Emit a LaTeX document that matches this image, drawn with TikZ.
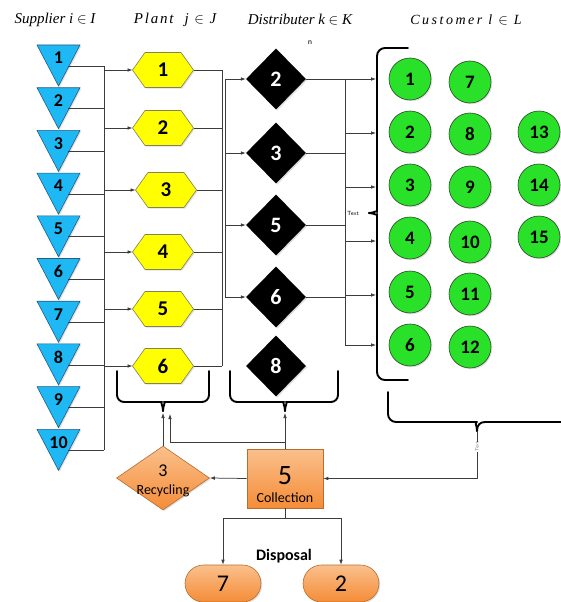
\documentclass[tikz,border=0pt]{standalone}
\usepackage{fontspec}
\setmainfont{Liberation Serif}
\newfontfamily\carl{Carlito}
\usetikzlibrary{shapes.geometric,shapes.misc,shadows,arrows.meta,calc}
\definecolor{suppblue}{RGB}{30,185,245}
\definecolor{suppedge}{RGB}{40,90,130}
\definecolor{plantyel}{RGB}{255,255,0}
\definecolor{plantedge}{RGB}{130,130,90}
\definecolor{custgreen}{RGB}{40,225,40}
\definecolor{custedge}{RGB}{40,70,40}
\definecolor{orangeA}{RGB}{250,192,140}
\definecolor{orangeB}{RGB}{245,140,55}
\definecolor{orangeEdge}{RGB}{180,110,50}
\definecolor{ln}{RGB}{60,60,60}
\begin{document}
\begin{tikzpicture}[x=1pt,y=-1pt,
  conn/.style={draw=ln,line width=0.75pt},
  arr/.style={conn,-{Latex[length=5pt,width=3.6pt]}},
  brace/.style={draw=black,line width=1.9pt,line cap=round,line join=round},
  shade/.style={drop shadow={opacity=0.25,shadow xshift=1.2pt,shadow yshift=-1.2pt}},
  suppshape/.style={fill=suppblue,draw=suppedge,line width=0.6pt,shade},
  plantshape/.style={fill=plantyel,draw=plantedge,line width=0.6pt,shade},
  snum/.style={font=\carl\bfseries\fontsize{18}{18}\selectfont,inner sep=0},
  pnum/.style={font=\carl\bfseries\fontsize{21}{21}\selectfont,inner sep=0},
  dist/.style={diamond,fill=black,minimum width=60,minimum height=61,inner sep=0,text=white,font=\carl\bfseries\fontsize{22}{22}\selectfont,shade},
  cust/.style={circle,fill=custgreen,draw=custedge,line width=0.6pt,minimum size=42,inner sep=0,font=\carl\bfseries\fontsize{19}{19}\selectfont,shade},
  orange/.style={top color=orangeA,bottom color=orangeB,draw=orangeEdge,line width=0.6pt},
  title/.style={font=\fontsize{15}{15}\selectfont,inner sep=0},
]
\useasboundingbox (0,0) rectangle (560,602);
\fill[white] (0,0) rectangle (560,602);

% titles
\node[title] (tS) at (55,20) {\itshape Supplier i $\in$ \itshape I};
\node[title] (tP) at (175,20) {\addfontfeature{LetterSpace=12}\itshape Plant\ \ j $\in$ \itshape J};
\node[title] (tD) at (300,20) {\itshape Distributer k $\in$ \itshape K};
\node[title,font=\fontsize{14}{14}\selectfont] (tC) at (466,20) {\addfontfeature{LetterSpace=18}\itshape Customer l $\in$ \itshape L};
\node[font=\sffamily\fontsize{8}{8}\selectfont,inner sep=0] (nn) at (310,43) {n};
\node[font=\sffamily\fontsize{6}{6}\selectfont,inner sep=0] (tx1) at (353,213) {Text};

% buses
\coordinate (busA) at (104,0);
\coordinate (busB) at (222,0);
\coordinate (busC) at (225,0);
\coordinate (busD) at (345,0);

% suppliers
\foreach \i in {1,...,10}{
  \pgfmathsetmacro{\t}{45+42.7*(\i-1)}
  \path[suppshape] (37,\t) -- (80,\t) -- (58.5,\t+41) -- cycle;
  \node[snum] (s\i) at (58.5,\t+13) {\i};
  \coordinate (so\i) at (68,\t+21);
  \draw[conn] (so\i) -- (so\i -| busA);
}
\draw[conn] (so1 -| busA) -- (so10 -| busA);

% plants
\foreach \i/\px/\py in {1/163/70,2/163/128,3/166/190,4/163/252,5/163/309,6/163/366}{
  \path[plantshape] (\px-30.5,\py) -- (\px-18,\py-17.5) -- (\px+18,\py-17.5) -- (\px+30.5,\py) -- (\px+18,\py+17.5) -- (\px-18,\py+17.5) -- cycle;
  \node[pnum] (p\i) at (\px,\py) {\i};
  \coordinate (pl\i) at (\px-30.5,\py);
  \coordinate (pr\i) at (\px+30.5,\py);
  \draw[arr] (pl\i -| busA) -- (pl\i);
  \draw[conn] (pr\i) -- (pr\i -| busB);
}
\draw[conn] (pr1 -| busB) -- (pr6 -| busB);

% distributors
\foreach \i/\dy in {2/79,3/153,5/225,6/297,8/366}
  \node[dist] (d\i) at (276,\dy) {\i};
\foreach \i in {2,3,5,6}{
  \draw[arr] (d\i.west -| busC) -- (d\i.west);
  \draw[conn] (d\i.east) -- (d\i.east -| busD);
}
\draw[conn] (d2.west -| busC) -- (d6.west -| busC);

% customer arrows
\foreach \i/\cy in {1/79,2/133,3/187,4/241,5/295,6/345}{
  \coordinate (cb\i) at (376,\cy);
  \draw[arr] (cb\i -| busD) -- (cb\i);
}
\draw[conn] (cb1 -| busD) -- (cb6 -| busD);

% customers
\foreach \i/\cx/\cy in {1/410/79,2/410/132,3/410/185,4/410/238,5/410/292,6/410/345,7/470/82,8/470/134,9/470/187,10/470/242,11/470/294,12/470/347,13/539/132,14/539/185,15/539/237}
  \node[cust] (c\i) at (\cx,\cy) {\i};

% braces
\draw[brace,rounded corners=8] (408,48) -- (377,48) -- (377,204) .. controls (377,210) and (374,213) .. (369,213);
\draw[brace,rounded corners=8] (408,380) -- (377,380) -- (377,222) .. controls (377,216) and (374,213) .. (369,213);
\draw[brace,rounded corners=7] (117,371) -- (117,402) -- (155,402) .. controls (160,402) and (163,405) .. (163,411);
\draw[brace,rounded corners=7] (209,371) -- (209,402) -- (171,402) .. controls (166,402) and (163,405) .. (163,411);
\draw[brace,rounded corners=7] (230,371) -- (230,402) -- (277,402) .. controls (282,402) and (285,405) .. (285,411);
\draw[brace,rounded corners=7] (338,371) -- (338,402) -- (293,402) .. controls (288,402) and (285,405) .. (285,411);
\draw[brace,rounded corners=8] (388,392) -- (388,422) -- (469,422) .. controls (474,422) and (477,425) .. (477,431);
\draw[brace] (570,422) -- (485,422) .. controls (480,422) and (477,425) .. (477,431);

% collection and recycling
\node[rectangle,orange,minimum width=76,minimum height=59,inner sep=0,shade] (col) at (285,478.5) {};
\node[font=\carl\fontsize{28}{28}\selectfont,inner sep=0] (col5) at (285,476) {5};
\node[font=\carl\fontsize{14}{14}\selectfont,inner sep=0] (colt) at (285,498) {Collection};
\node[diamond,orange,minimum width=93,minimum height=64,inner sep=0,shade] (rec) at (163,478) {};
\node[font=\carl\fontsize{18}{18}\selectfont,inner sep=0] (rec3) at (163,471) {3};
\node[font=\carl\fontsize{14}{14}\selectfont,inner sep=0] (rect) at (163,491) {Recycling};

\coordinate (ptip) at (163,413);
\coordinate (ptip2) at (170,414);
\coordinate (dtip) at (285,413);
\coordinate (bt) at (477,432);
\draw[arr] (rec.north) -- (ptip);
\draw[arr] (col.north) -- (dtip);
\draw[arr] ($(col.north)+(0,-6)$) -| (ptip2);
\draw[arr] (bt) |- (col.east);
\draw[arr] (col.west) -- (rec.east);
\node[font=\sffamily\fontsize{5}{5}\selectfont,text=gray,rotate=90,fill=white,inner sep=0.5] (tx2) at (477,447) {Text};

% disposal
\node[rounded rectangle,orange,minimum width=76,minimum height=37,inner sep=0,font=\carl\fontsize{24}{24}\selectfont,shade] (x7) at (223,583.5) {7};
\node[rounded rectangle,orange,minimum width=76,minimum height=37,inner sep=0,font=\carl\fontsize{24}{24}\selectfont,shade] (x2) at (341,583.5) {2};
\node[font=\carl\bfseries\fontsize{16}{16}\selectfont,inner sep=0] (disp) at (284,556) {Disposal};
\draw[conn] (col.south) -- ++(0,10) coordinate (dj);
\draw[arr] (dj) -| (x7.north);
\draw[arr] (dj) -| (x2.north);
\end{tikzpicture}
\end{document}
